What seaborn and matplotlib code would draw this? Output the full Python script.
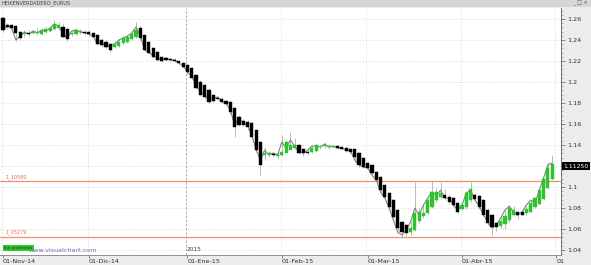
import numpy as np
import pandas as pd
import matplotlib
matplotlib.use("Agg")
import matplotlib.pyplot as plt
import seaborn as sns
from matplotlib.patches import Rectangle

# ---------------- data (Heikin-Ashi EUR/USD, daily) ----------------
opens = [1.2610, 1.2543, 1.2543, 1.2533, 1.2476, 1.2457, 1.2467, 1.2467, 1.2467, 1.2457,
         1.2476, 1.2486, 1.2505, 1.2514, 1.2524, 1.2505, 1.2457, 1.2457, 1.2476, 1.2476,
         1.2476, 1.2467, 1.2448, 1.2400, 1.2381, 1.2362, 1.2333, 1.2343, 1.2371, 1.2381,
         1.2410, 1.2429, 1.2514, 1.2448, 1.2381, 1.2324, 1.2286, 1.2238, 1.2229, 1.2219,
         1.2210, 1.2200, 1.2181, 1.2162, 1.2133, 1.2067, 1.2000, 1.1971, 1.1924, 1.1876,
         1.1848, 1.1838, 1.1819, 1.1810, 1.1752, 1.1667, 1.1629, 1.1619, 1.1610, 1.1543,
         1.1429, 1.1305, 1.1314, 1.1314, 1.1295, 1.1305, 1.1324, 1.1352, 1.1371, 1.1400,
         1.1362, 1.1333, 1.1333, 1.1343, 1.1381, 1.1390, 1.1381, 1.1381, 1.1390, 1.1381,
         1.1371, 1.1362, 1.1362, 1.1324, 1.1276, 1.1229, 1.1210, 1.1143, 1.1095, 1.1019,
         1.0943, 1.0876, 1.0781, 1.0667, 1.0638, 1.0571, 1.0591, 1.0676, 1.0724, 1.0752,
         1.0810, 1.0876, 1.0905, 1.0924, 1.0905, 1.0895, 1.0848, 1.0791, 1.0810, 1.0876,
         1.0924, 1.0914, 1.0876, 1.0781, 1.0733, 1.0657, 1.0629, 1.0648, 1.0686, 1.0733,
         1.0762, 1.0762, 1.0752, 1.0762, 1.0810, 1.0838, 1.0886, 1.0990, 1.1076]
closes = [1.2495, 1.2524, 1.2514, 1.2467, 1.2419, 1.2467, 1.2457, 1.2476, 1.2476, 1.2486,
          1.2505, 1.2514, 1.2552, 1.2543, 1.2429, 1.2410, 1.2467, 1.2495, 1.2486, 1.2467,
          1.2457, 1.2429, 1.2362, 1.2352, 1.2333, 1.2305, 1.2362, 1.2381, 1.2419, 1.2429,
          1.2457, 1.2495, 1.2419, 1.2305, 1.2276, 1.2238, 1.2210, 1.2200, 1.2210, 1.2210,
          1.2200, 1.2181, 1.2143, 1.2095, 1.2038, 1.1943, 1.1876, 1.1857, 1.1810, 1.1819,
          1.1838, 1.1810, 1.1790, 1.1714, 1.1571, 1.1590, 1.1590, 1.1571, 1.1476, 1.1352,
          1.1210, 1.1324, 1.1324, 1.1305, 1.1314, 1.1333, 1.1429, 1.1400, 1.1400, 1.1324,
          1.1324, 1.1324, 1.1371, 1.1400, 1.1386, 1.1400, 1.1390, 1.1390, 1.1371, 1.1362,
          1.1343, 1.1333, 1.1286, 1.1210, 1.1191, 1.1181, 1.1133, 1.1067, 1.0971, 1.0905,
          1.0810, 1.0714, 1.0610, 1.0571, 1.0562, 1.0610, 1.0752, 1.0762, 1.0752, 1.0876,
          1.0952, 1.0952, 1.0943, 1.0895, 1.0857, 1.0829, 1.0762, 1.0829, 1.0943, 1.0981,
          1.0886, 1.0810, 1.0733, 1.0657, 1.0619, 1.0619, 1.0676, 1.0724, 1.0800, 1.0781,
          1.0733, 1.0733, 1.0791, 1.0848, 1.0895, 1.0971, 1.1076, 1.1181, 1.1219]
highs = [1.2625, 1.2560, 1.2555, 1.2545, 1.2490, 1.2500, 1.2495, 1.2500, 1.2510, 1.2510,
         1.2530, 1.2535, 1.2590, 1.2575, 1.2550, 1.2520, 1.2500, 1.2510, 1.2505, 1.2500,
         1.2495, 1.2480, 1.2460, 1.2415, 1.2400, 1.2375, 1.2380, 1.2410, 1.2435, 1.2450,
         1.2480, 1.2571, 1.2530, 1.2460, 1.2395, 1.2335, 1.2295, 1.2250, 1.2240, 1.2230,
         1.2225, 1.2210, 1.2195, 1.2175, 1.2145, 1.2080, 1.2015, 1.1985, 1.1935, 1.1890,
         1.1870, 1.1855, 1.1830, 1.1820, 1.1765, 1.1690, 1.1645, 1.1635, 1.1620, 1.1555,
         1.1440, 1.1380, 1.1345, 1.1335, 1.1330, 1.1500, 1.1450, 1.1520, 1.1470, 1.1410,
         1.1375, 1.1360, 1.1400, 1.1420, 1.1400, 1.1430, 1.1410, 1.1405, 1.1400, 1.1395,
         1.1385, 1.1370, 1.1370, 1.1335, 1.1290, 1.1240, 1.1220, 1.1150, 1.1105, 1.1030,
         1.0955, 1.0885, 1.0795, 1.0680, 1.0650, 1.0675, 1.1048, 1.0800, 1.0840, 1.0900,
         1.1057, 1.0990, 1.1048, 1.0980, 1.0930, 1.0910, 1.0860, 1.0845, 1.0960, 1.1048,
         1.0940, 1.0925, 1.0890, 1.0795, 1.0745, 1.0670, 1.0720, 1.0780, 1.0830, 1.0820,
         1.0775, 1.0775, 1.0830, 1.0880, 1.0905, 1.0985, 1.1090, 1.1238, 1.1305]
lows = [1.2480, 1.2505, 1.2505, 1.2395, 1.2410, 1.2430, 1.2440, 1.2455, 1.2450, 1.2445,
        1.2465, 1.2480, 1.2495, 1.2500, 1.2420, 1.2395, 1.2440, 1.2445, 1.2460, 1.2450,
        1.2440, 1.2425, 1.2350, 1.2335, 1.2320, 1.2290, 1.2320, 1.2330, 1.2360, 1.2370,
        1.2400, 1.2420, 1.2400, 1.2295, 1.2265, 1.2225, 1.2200, 1.2190, 1.2200, 1.2195,
        1.2190, 1.2170, 1.2130, 1.2080, 1.2030, 1.1930, 1.1870, 1.1840, 1.1800, 1.1810,
        1.1825, 1.1800, 1.1780, 1.1700, 1.1480, 1.1580, 1.1580, 1.1540, 1.1460, 1.1340,
        1.1114, 1.1260, 1.1290, 1.1285, 1.1280, 1.1295, 1.1340, 1.1360, 1.1360, 1.1310,
        1.1300, 1.1305, 1.1320, 1.1330, 1.1360, 1.1370, 1.1360, 1.1370, 1.1360, 1.1350,
        1.1330, 1.1320, 1.1240, 1.1195, 1.1180, 1.1170, 1.1105, 1.1055, 1.0940, 1.0885,
        1.0790, 1.0680, 1.0560, 1.0514, 1.0530, 1.0545, 1.0580, 1.0660, 1.0710, 1.0740,
        1.0800, 1.0860, 1.0890, 1.0880, 1.0840, 1.0810, 1.0740, 1.0780, 1.0795, 1.0860,
        1.0870, 1.0795, 1.0720, 1.0640, 1.0543, 1.0580, 1.0610, 1.0600, 1.0670, 1.0720,
        1.0700, 1.0720, 1.0735, 1.0750, 1.0800, 1.0825, 1.0875, 1.0980, 1.1065]
close_line = [1.2495, 1.2533, 1.2514, 1.2400, 1.2438, 1.2476, 1.2457, 1.2486, 1.2467, 1.2495,
              1.2486, 1.2514, 1.2552, 1.2533, 1.2457, 1.2419, 1.2486, 1.2495, 1.2476, 1.2467,
              1.2457, 1.2438, 1.2362, 1.2381, 1.2333, 1.2343, 1.2362, 1.2400, 1.2419, 1.2438,
              1.2467, 1.2524, 1.2438, 1.2305, 1.2286, 1.2248, 1.2229, 1.2210, 1.2229, 1.2210,
              1.2210, 1.2181, 1.2152, 1.2095, 1.2057, 1.1971, 1.1905, 1.1876, 1.1829, 1.1848,
              1.1857, 1.1819, 1.1800, 1.1733, 1.1590, 1.1657, 1.1610, 1.1590, 1.1495, 1.1352,
              1.1257, 1.1352, 1.1305, 1.1324, 1.1305, 1.1429, 1.1371, 1.1448, 1.1390, 1.1333,
              1.1324, 1.1352, 1.1390, 1.1390, 1.1381, 1.1410, 1.1381, 1.1390, 1.1371, 1.1371,
              1.1352, 1.1343, 1.1257, 1.1210, 1.1191, 1.1181, 1.1114, 1.1067, 1.0952, 1.0895,
              1.0800, 1.0686, 1.0571, 1.0543, 1.0591, 1.0667, 1.0800, 1.0733, 1.0829, 1.0895,
              1.0952, 1.0924, 1.0971, 1.0895, 1.0895, 1.0829, 1.0781, 1.0829, 1.0943, 1.0971,
              1.0876, 1.0819, 1.0733, 1.0667, 1.0610, 1.0638, 1.0705, 1.0781, 1.0819, 1.0762,
              1.0733, 1.0762, 1.0829, 1.0876, 1.0848, 1.0971, 1.1086, 1.1210, 1.1229]

month_labels = ["01-Nov-14", "01-Dic-14", "01-Ene-15", "01-Feb-15", "01-Mar-15", "01-Abr-15", "01"]
month_pos = [0, 20, 43, 65, 85, 107, 129]
y_ticks = [1.04, 1.06, 1.08, 1.10, 1.12, 1.14, 1.16, 1.18, 1.20, 1.22, 1.24, 1.26]
# the 1.12 label is hidden behind the last-price box in the original
y_tick_labels = ["1.04", "1.06", "1.08", "1.1", "", "1.14", "1.16", "1.18", "1.2", "1.22", "1.24", "1.26"]
levels = [1.1058, 1.0528]
level_labels = ["1_10580", "1_05279"]
last_label = "1.11250"
last_label_y = 1.1200
title = "HEIKENVERDADERO_EURUS"

# ---------------- figure ----------------
sns.set_style("white")
plt.rcParams['font.family'] = ['DejaVu Sans']

W, H = 591, 265
fig = plt.figure(figsize=(W / 100, H / 100), dpi=100)
fig.patch.set_facecolor("#ececec")

ax = fig.add_axes([0, 10 / H, 561 / W, 247 / H])
ax.set_facecolor("white")

df = pd.DataFrame({"i": np.arange(len(opens)), "o": opens, "c": closes,
                   "h": highs, "l": lows, "line": close_line})
df["up"] = df["c"] >= df["o"]
cols = np.where(df["up"], "#2ec42e", "#000000")

# grid
for yv in y_ticks:
    ax.axhline(yv, color="#d0d0d0", lw=0.6, ls=(0, (1, 2)), zorder=0)
for p in month_pos:
    if p == 43:
        ax.axvline(p - 0.3, color="#a0a0a0", lw=0.6, ls=(0, (3, 2)), zorder=0)
    else:
        ax.axvline(p - 0.3, color="#d0d0d0", lw=0.6, ls=(0, (1, 2)), zorder=0)

# level lines
for lv, lt in zip(levels, level_labels):
    ax.axhline(lv, color="#f0906e", lw=0.9, zorder=1)
    ax.text(0.5, lv + 0.0012, lt, fontsize=3.6, color="#e87050", va="bottom", ha="left")

# wicks
ax.vlines(df["i"], df["l"], df["h"], color="#b0b0b0", lw=0.6, zorder=2)
# close line
sns.lineplot(x=df["i"], y=df["line"], color="#7c7c7c", lw=0.75, ax=ax, zorder=3)
# bodies
heights = df["c"] - df["o"]
ax.bar(df["i"], heights, bottom=df["o"], width=0.74, color=cols,
       edgecolor=cols, linewidth=0.3, zorder=4)

ax.set_xlim(-0.7, 130.07)
ax.set_ylim(1.0353, 1.2705)
ax.set_xlabel("")
ax.set_ylabel("")

# right axis
ax.yaxis.tick_right()
ax.set_yticks(y_ticks)
ax.set_yticklabels(y_tick_labels, fontsize=4.6, color="#303030")
ax.set_yticks(np.arange(1.036, 1.270, 0.004), minor=True)
ax.tick_params(axis="y", which="major", length=3, width=0.5, color="#606060", pad=1.5, right=True)
ax.tick_params(axis="y", which="minor", length=1.5, width=0.4, color="#808080", right=True)

# bottom axis
ax.set_xticks(month_pos)
ax.set_xticklabels(month_labels, fontsize=4.6, color="#303030")
for lab in ax.get_xticklabels():
    lab.set_ha("left")
ax.tick_params(axis="x", which="major", length=2, width=0.5, color="#606060", pad=1, bottom=True)

for s in ["top", "left"]:
    ax.spines[s].set_visible(False)
ax.spines["right"].set_color("#707070")
ax.spines["right"].set_linewidth(0.7)
ax.spines["bottom"].set_color("#909090")
ax.spines["bottom"].set_linewidth(0.7)

# texts on plot
ax.text(42.7, 1.0385, "2015", fontsize=4.2, color="#404040", ha="left", va="bottom")
ax.text(6.0, 1.0368, "www.visualchart.com", fontsize=4.6, color="#6a6ab0", ha="left", va="bottom")
ax.text(0.3, 1.0420, "Sin gradientes", fontsize=2.8, color="#104010", ha="left", va="center",
        bbox=dict(boxstyle="square,pad=0.25", fc="#2ec42e", ec="none"))

# last price label
ax.text(1.004, last_label_y, last_label, transform=ax.get_yaxis_transform(),
        fontsize=4.4, color="white", ha="left", va="center",
        bbox=dict(boxstyle="square,pad=0.2", fc="#000000", ec="none"), clip_on=False)

# title bar
fig.patches.append(Rectangle((0, (H - 7) / H), 1, 7 / H, transform=fig.transFigure,
                             fc="#d6d6d6", ec="none", zorder=0))
fig.text(2 / W, (H - 3.5) / H, title, fontsize=3.6, color="#404040", va="center", ha="left")
fig.text(588 / W, (H - 3.5) / H, "_ \u25a1 \u00d7", fontsize=3.6, color="#505050", va="center", ha="right")

fig.savefig("out.png", dpi=100, facecolor=fig.get_facecolor())
